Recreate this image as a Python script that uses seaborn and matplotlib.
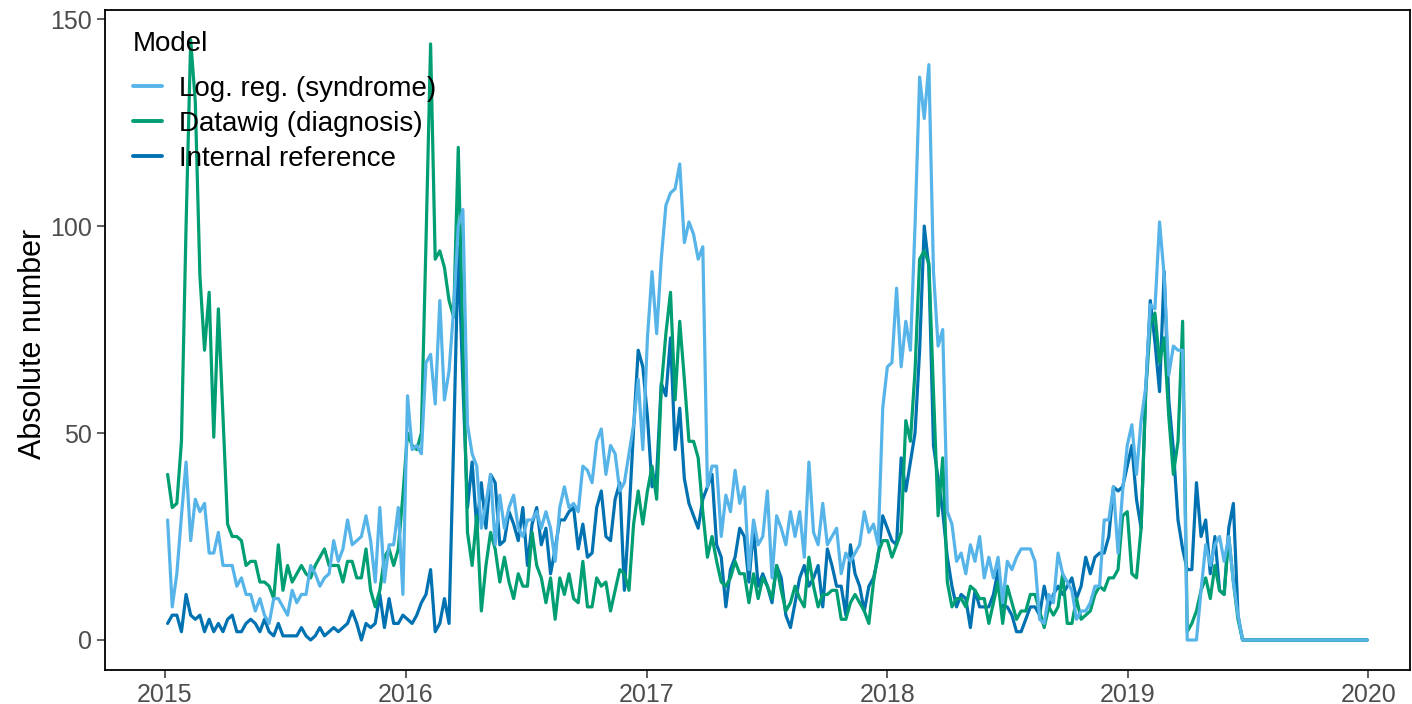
import matplotlib
matplotlib.use("Agg")
import matplotlib.pyplot as plt
import matplotlib.dates as mdates
import pandas as pd
import seaborn as sns

# Weekly counts, first week starting 2015-01-05
first_week = "2015-01-05"
models = ["Log. reg. (syndrome)", "Datawig (diagnosis)", "Internal reference"]
palette = ["#56B4E9", "#009E73", "#0072B2"]

logreg = [
    29, 8, 16, 30, 43, 24, 34, 31, 33, 21,
    21, 26, 18, 18, 18, 13, 15, 11, 11, 7,
    10, 6, 4, 10, 10, 8, 6, 12, 9, 11,
    11, 18, 16, 13, 15, 16, 24, 19, 22, 29,
    23, 24, 25, 30, 24, 14, 32, 14, 23, 23,
    32, 11, 59, 46, 47, 45, 67, 69, 57, 82,
    58, 65, 80, 100, 104, 52, 45, 42, 27, 33,
    40, 23, 35, 27, 32, 35, 27, 25, 29, 29,
    31, 27, 31, 27, 19, 32, 37, 32, 33, 31,
    42, 41, 38, 48, 51, 40, 47, 45, 36, 38,
    45, 52, 63, 46, 73, 89, 74, 92, 105, 108,
    109, 115, 96, 101, 98, 92, 95, 37, 42, 42,
    25, 35, 31, 41, 33, 37, 17, 29, 23, 25,
    36, 15, 30, 27, 23, 31, 25, 31, 20, 43,
    26, 23, 33, 23, 25, 27, 16, 21, 19, 21,
    23, 31, 26, 28, 23, 56, 66, 67, 85, 66,
    77, 70, 100, 136, 126, 139, 89, 71, 75, 31,
    28, 19, 21, 16, 23, 19, 25, 15, 20, 15,
    20, 9, 19, 17, 20, 22, 22, 22, 19, 5,
    4, 11, 9, 21, 16, 14, 12, 5, 7, 7,
    9, 13, 13, 29, 29, 37, 21, 36, 47, 52,
    40, 53, 61, 81, 80, 101, 88, 64, 71, 70,
    70, 0, 0, 0, 12, 23, 18, 23, 25, 19,
    25, 14, 6, 0, 0, 0, 0, 0, 0, 0,
    0, 0, 0, 0, 0, 0, 0, 0, 0, 0,
    0, 0, 0, 0, 0, 0, 0, 0, 0, 0,
    0,
]

datawig = [
    40, 32, 33, 48, 100, 145, 130, 88, 70, 84,
    49, 80, 54, 28, 25, 25, 24, 18, 19, 19,
    14, 14, 13, 10, 23, 12, 18, 14, 16, 18,
    16, 15, 18, 20, 22, 18, 18, 18, 14, 19,
    19, 15, 15, 22, 12, 8, 12, 20, 22, 18,
    22, 35, 50, 47, 46, 50, 96, 144, 92, 94,
    90, 82, 78, 119, 72, 26, 18, 30, 7, 18,
    26, 22, 14, 20, 14, 10, 16, 13, 13, 26,
    18, 15, 9, 15, 5, 15, 11, 16, 10, 9,
    19, 8, 8, 15, 13, 14, 7, 12, 17, 16,
    12, 28, 36, 28, 36, 42, 34, 61, 74, 84,
    58, 77, 63, 48, 48, 44, 31, 20, 25, 19,
    14, 13, 15, 19, 16, 16, 9, 16, 10, 15,
    13, 10, 18, 12, 7, 9, 13, 10, 8, 20,
    13, 8, 11, 11, 12, 12, 5, 5, 9, 11,
    9, 7, 4, 14, 21, 24, 24, 20, 23, 26,
    53, 48, 65, 92, 94, 91, 60, 30, 44, 14,
    8, 10, 10, 8, 13, 12, 10, 10, 4, 9,
    14, 4, 13, 9, 5, 7, 7, 11, 11, 7,
    3, 8, 6, 8, 16, 4, 4, 10, 5, 6,
    7, 11, 13, 12, 15, 15, 17, 30, 31, 16,
    15, 27, 60, 76, 79, 67, 73, 54, 40, 48,
    77, 2, 4, 7, 12, 15, 10, 18, 12, 11,
    25, 14, 5, 0, 0, 0, 0, 0, 0, 0,
    0, 0, 0, 0, 0, 0, 0, 0, 0, 0,
    0, 0, 0, 0, 0, 0, 0, 0, 0, 0,
    0,
]

internal = [
    4, 6, 6, 2, 11, 6, 5, 6, 2, 5,
    2, 4, 2, 5, 6, 2, 2, 4, 5, 4,
    2, 5, 2, 1, 4, 1, 1, 1, 1, 3,
    1, 0, 1, 3, 1, 2, 3, 2, 3, 4,
    7, 4, 0, 4, 3, 4, 11, 3, 10, 4,
    4, 6, 5, 4, 6, 9, 11, 17, 2, 4,
    10, 4, 48, 95, 62, 32, 43, 27, 38, 27,
    40, 38, 23, 24, 31, 28, 24, 32, 18, 28,
    32, 23, 27, 16, 22, 29, 29, 31, 32, 22,
    28, 20, 21, 32, 36, 25, 24, 34, 38, 12,
    30, 51, 70, 66, 54, 37, 40, 62, 59, 73,
    46, 56, 39, 33, 30, 27, 34, 37, 40, 23,
    20, 8, 17, 20, 27, 25, 14, 27, 13, 16,
    13, 9, 18, 15, 6, 3, 9, 15, 18, 13,
    15, 18, 8, 22, 18, 13, 13, 6, 23, 16,
    13, 7, 13, 15, 20, 30, 27, 24, 23, 44,
    36, 43, 50, 70, 100, 90, 47, 39, 31, 20,
    13, 8, 11, 10, 3, 12, 8, 8, 8, 11,
    17, 8, 8, 6, 2, 2, 5, 8, 8, 6,
    13, 8, 11, 13, 11, 13, 15, 10, 13, 20,
    16, 20, 21, 21, 25, 37, 36, 37, 42, 47,
    34, 27, 60, 82, 72, 60, 89, 58, 46, 29,
    22, 17, 17, 38, 25, 29, 16, 25, 12, 11,
    27, 33, 6, 0, 0, 0, 0, 0, 0, 0,
    0, 0, 0, 0, 0, 0, 0, 0, 0, 0,
    0, 0, 0, 0, 0, 0, 0, 0, 0, 0,
    0,
]

year_ticks = [2015, 2016, 2017, 2018, 2019, 2020]
y_ticks = [0, 50, 100, 150]

weeks = pd.date_range(first_week, periods=len(logreg), freq="7D")
series = [logreg, datawig, internal]

sns.set_theme(style="white")
plt.rcParams["font.family"] = ["Liberation Sans", "DejaVu Sans"]

fig = plt.figure(figsize=(14.12, 7.04), dpi=100)
ax = fig.add_axes([105 / 1412, 34 / 704, 1305 / 1412, 660 / 704])

# Log. reg. sits on top, the internal reference underneath
zorders = [2.3, 2.2, 2.1]
for name, values, color, z in zip(models, series, palette, zorders):
    frame = pd.DataFrame({"week": weeks, "count": values})
    sns.lineplot(data=frame, x="week", y="count", color=color, label=name,
                 linewidth=2.3, estimator=None, zorder=z, ax=ax)

ax.set_xlim(pd.Timestamp("2014-10-02"), pd.Timestamp("2020-03-04"))
ax.set_ylim(-7.25, 152.2)

ax.set_xticks([pd.Timestamp(f"{y}-01-01") for y in year_ticks])
ax.xaxis.set_major_formatter(mdates.DateFormatter("%Y"))
ax.set_yticks(y_ticks)

ax.set_xlabel("")
ax.set_ylabel("Absolute number", fontsize=22, color="black")
ax.yaxis.set_label_coords(-0.044, 0.494)

for side in ["left", "right", "top", "bottom"]:
    ax.spines[side].set_visible(True)
    ax.spines[side].set_color("black")
    ax.spines[side].set_linewidth(1.3)

ax.tick_params(axis="both", which="major", direction="out", length=5.5,
               width=1.1, color="#333333", labelcolor="#4D4D4D",
               labelsize=18, bottom=True, left=True)
ax.tick_params(axis="y", pad=4)
ax.tick_params(axis="x", pad=3.5)
ax.grid(False)

leg = ax.legend(title="Model", loc="upper left",
                bbox_to_anchor=(0.0215, 0.968), frameon=False,
                fontsize=20, title_fontsize=20, handlelength=1.05,
                handletextpad=0.6, labelspacing=0.32, borderaxespad=0,
                borderpad=0, alignment="left")
leg.get_title().set_color("black")
for text in leg.get_texts():
    text.set_color("black")
for line in leg.get_lines():
    line.set_linewidth(2.8)
# wider gap between the legend title and its entries
leg._legend_box.sep = 13.5

fig.savefig("out.png", dpi=100)
